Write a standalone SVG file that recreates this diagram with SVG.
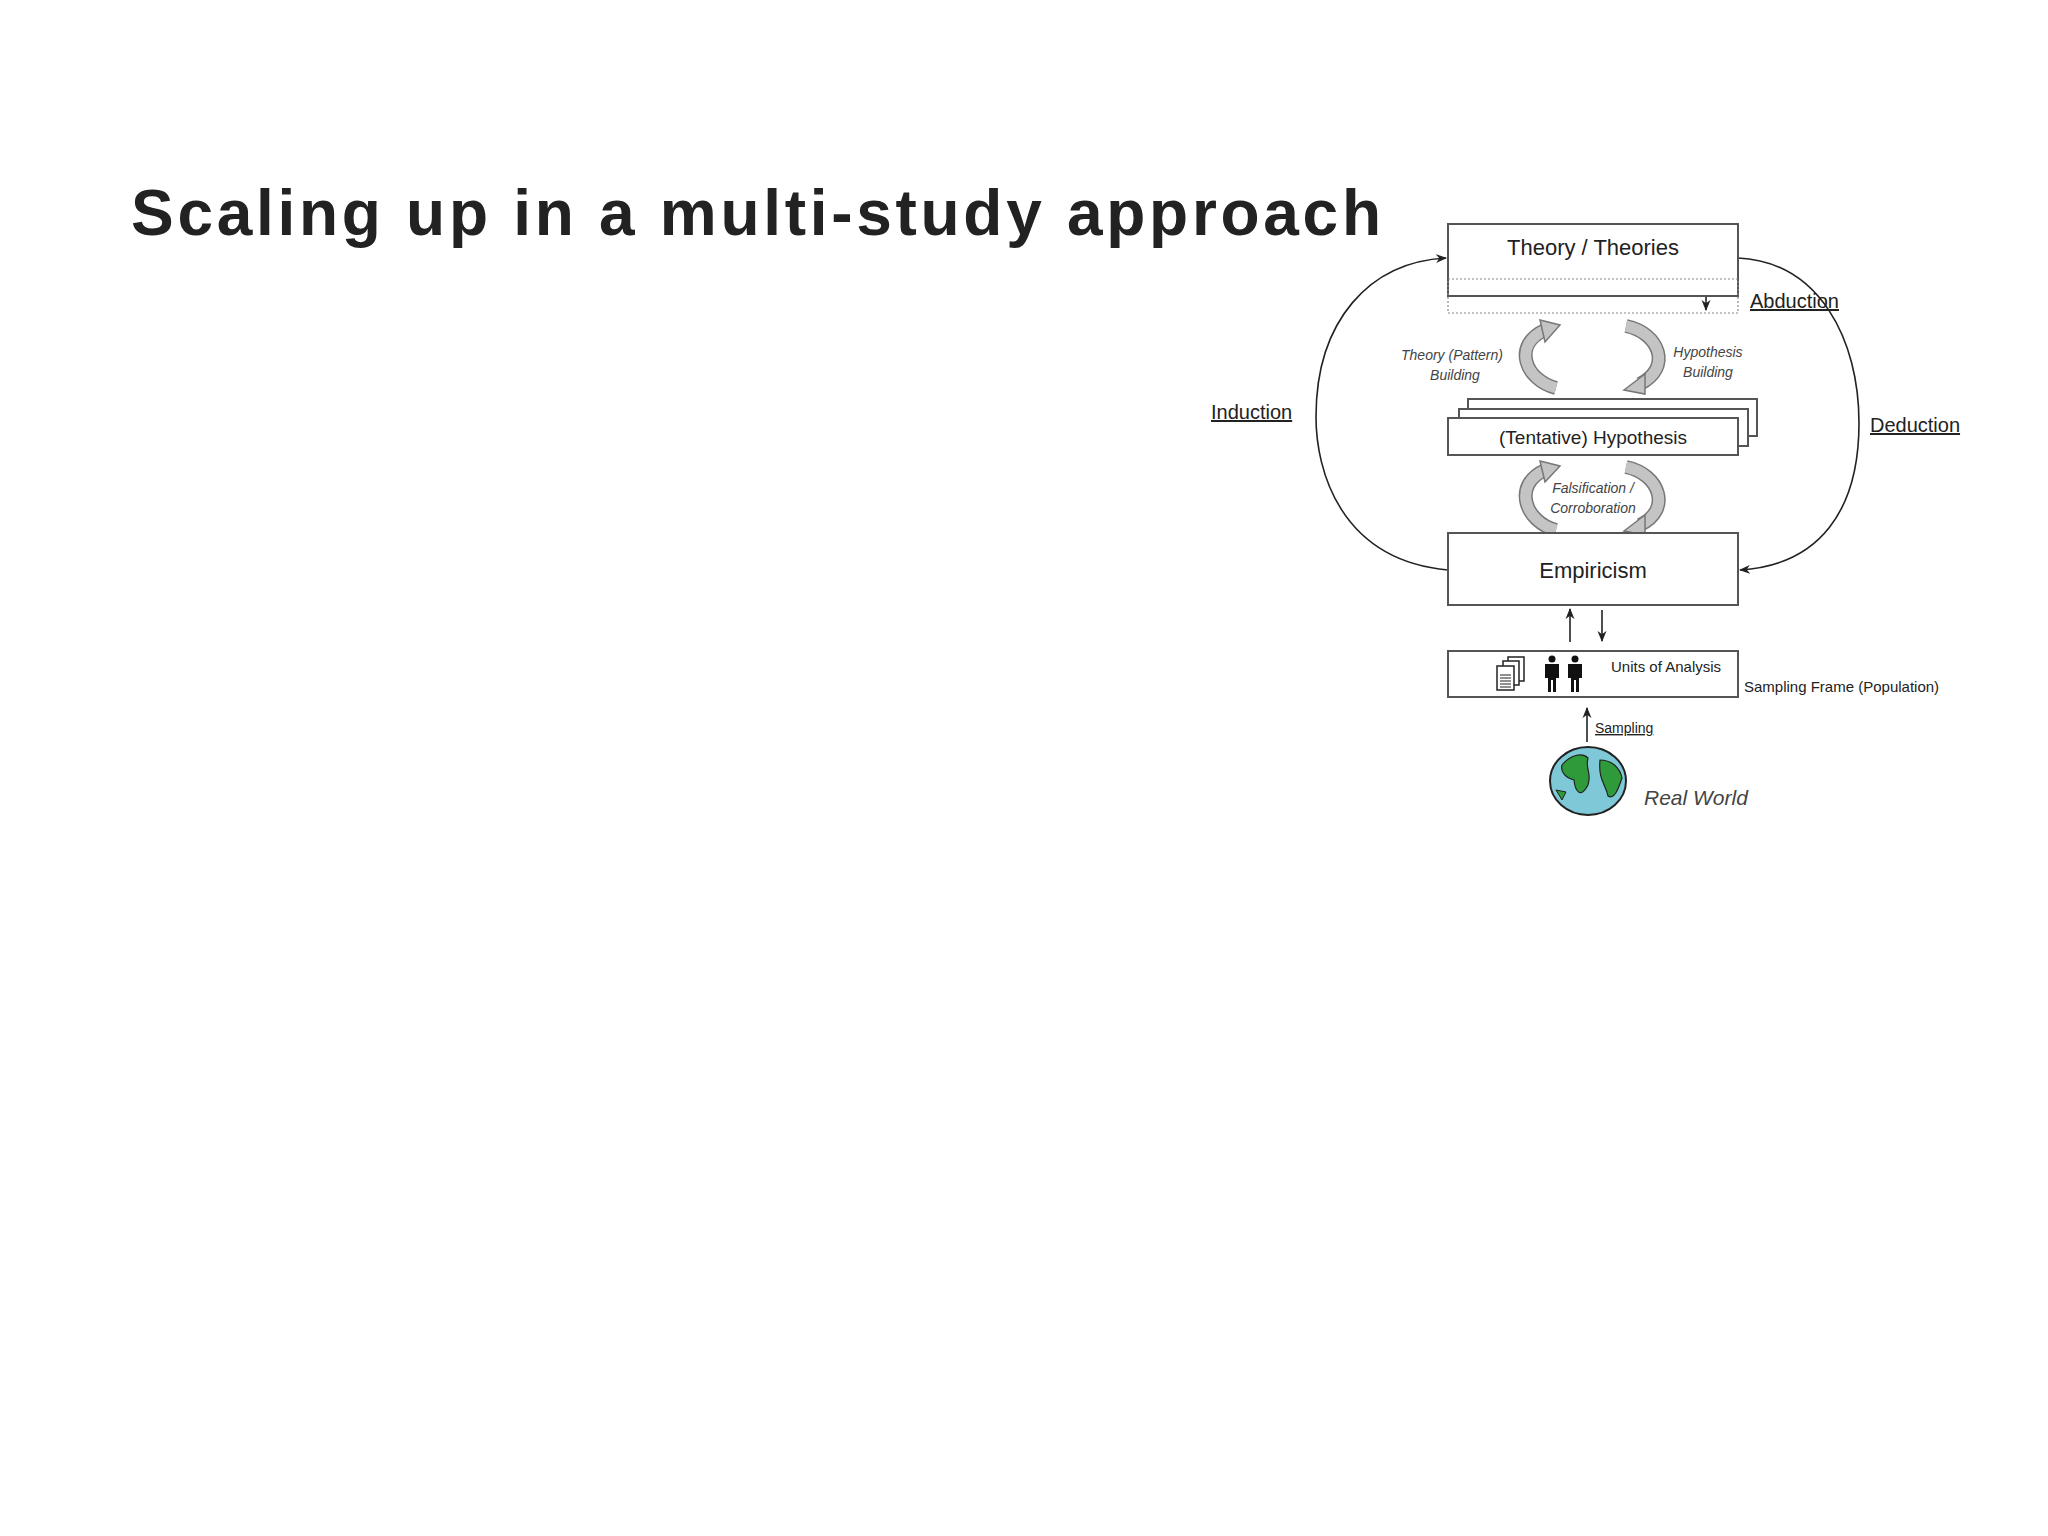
<svg xmlns="http://www.w3.org/2000/svg" width="2048" height="1536" viewBox="0 0 2048 1536">
<style>
.box{fill:#fff;stroke:#555;stroke-width:2}
.t{font-family:"Liberation Sans",Arial,sans-serif;fill:#222}
.i{font-family:"Liberation Sans",Arial,sans-serif;font-style:italic;fill:#444}
.ln{fill:none;stroke:#222;stroke-width:1.6}
.ca{fill:none;stroke:#777;stroke-width:14}
.ci{fill:none;stroke:#c4c4c4;stroke-width:11}
.hd{fill:#c4c4c4;stroke:#777;stroke-width:1.5}
</style>
<defs>
<marker id="ah" viewBox="0 0 10 10" refX="9" refY="5" markerWidth="7" markerHeight="7" orient="auto"><path d="M0,1 L10,5 L0,9 L3,5 Z" fill="#222"/></marker>
</defs>
<rect width="2048" height="1536" fill="#fff"/>
<text x="131" y="235" class="t" font-size="64" font-weight="bold" fill="#000" textLength="1250">Scaling up in a multi-study approach</text>

<g id="connectors">
<path class="ln" d="M1448,570 C1340,560 1316,470 1316,417 C1316,320 1370,262 1446,258" marker-end="url(#ah)"/>
<path class="ln" d="M1738,258 C1820,262 1859,340 1859,423 C1859,510 1820,565 1740,570" marker-end="url(#ah)"/>
<line class="ln" x1="1706" y1="283" x2="1706" y2="310" stroke-width="1.2" marker-start="url(#ah)" marker-end="url(#ah)"/>
<line class="ln" x1="1570" y1="642" x2="1570" y2="609" marker-end="url(#ah)"/>
<line class="ln" x1="1602" y1="610" x2="1602" y2="641" marker-end="url(#ah)"/>
<line class="ln" x1="1587" y1="742" x2="1587" y2="708" marker-end="url(#ah)"/>
<g id="cycle-arrows">
<path class="ca" d="M1556,388 C1525,380 1512,345 1545,330"/><path class="ci" d="M1556,388 C1525,380 1512,345 1545,330"/>
<polygon class="hd" points="1540,320 1560,325 1545,342"/>
<path class="ca" d="M1626,326 C1660,333 1672,368 1640,384"/><path class="ci" d="M1626,326 C1660,333 1672,368 1640,384"/>
<polygon class="hd" points="1645,374 1624,390 1645,394"/>
<path class="ca" d="M1556,530 C1525,522 1512,485 1545,470"/><path class="ci" d="M1556,530 C1525,522 1512,485 1545,470"/>
<polygon class="hd" points="1540,461 1560,466 1545,482"/>
<path class="ca" d="M1626,467 C1660,474 1672,510 1640,525"/><path class="ci" d="M1626,467 C1660,474 1672,510 1640,525"/>
<polygon class="hd" points="1645,515 1624,531 1645,535"/>
</g>
</g>

<g id="theory">
<rect class="box" x="1448" y="224" width="290" height="72"/>
<rect x="1448" y="279" width="290" height="34" fill="none" stroke="#888" stroke-width="1.2" stroke-dasharray="2,2"/>
<text x="1593" y="255" class="t" font-size="22" text-anchor="middle">Theory / Theories</text>
</g>
<g id="abduction"><text x="1750" y="308" class="t" font-size="20" text-decoration="underline">Abduction</text></g>
<g id="induction"><text x="1211" y="419" class="t" font-size="20" text-decoration="underline">Induction</text></g>
<g id="deduction"><text x="1870" y="432" class="t" font-size="20" text-decoration="underline">Deduction</text></g>

<g id="labels-cycle">
<text x="1452" y="360" class="i" font-size="14" text-anchor="middle">Theory (Pattern)</text>
<text x="1455" y="380" class="i" font-size="14" text-anchor="middle">Building</text>
<text x="1708" y="357" class="i" font-size="14" text-anchor="middle">Hypothesis</text>
<text x="1708" y="377" class="i" font-size="14" text-anchor="middle">Building</text>
<text x="1593" y="493" class="i" font-size="14" text-anchor="middle">Falsification /</text>
<text x="1593" y="513" class="i" font-size="14" text-anchor="middle">Corroboration</text>
</g>

<g id="hypothesis">
<rect class="box" x="1468" y="399" width="289" height="37"/>
<rect class="box" x="1459" y="409" width="289" height="37"/>
<rect class="box" x="1448" y="418" width="290" height="37"/>
<text x="1593" y="444" class="t" font-size="19" text-anchor="middle">(Tentative) Hypothesis</text>
</g>

<g id="empiricism">
<rect class="box" x="1448" y="533" width="290" height="72"/>
<text x="1593" y="578" class="t" font-size="22" text-anchor="middle">Empiricism</text>
</g>

<g id="units">
<rect class="box" x="1448" y="651" width="290" height="46"/>
<rect x="1508" y="657" width="16" height="24" fill="#fff" stroke="#222" stroke-width="1.5"/>
<rect x="1503" y="661" width="16" height="24" fill="#fff" stroke="#222" stroke-width="1.5"/>
<rect x="1497" y="666" width="17" height="24" fill="#fff" stroke="#222" stroke-width="1.5"/>
<path d="M1500,675h11M1500,678h11M1500,681h11M1500,684h11M1500,687h11" stroke="#222" stroke-width="1.2"/>
<g fill="#111">
<circle cx="1552" cy="659" r="3.5"/><path d="M1545,664h14v14h-3v14h-3v-12h-2v12h-3v-14h-3z"/>
<circle cx="1575" cy="659" r="3.5"/><path d="M1568,664h14v14h-3v14h-3v-12h-2v12h-3v-14h-3z"/>
</g>
<text x="1611" y="672" class="t" font-size="15">Units of Analysis</text>
<text x="1744" y="692" class="t" font-size="15">Sampling Frame (Population)</text>
</g>

<g id="sampling"><text x="1595" y="733" class="t" font-size="14" text-decoration="underline">Sampling</text></g>

<g id="realworld">
<ellipse cx="1588" cy="781" rx="38" ry="34" fill="#7fc8d8" stroke="#222" stroke-width="2"/>
<path d="M1562,765 C1570,755 1582,752 1588,758 C1585,770 1592,772 1588,785 C1580,800 1575,790 1574,780 C1566,778 1560,772 1562,765 Z" fill="#2e9a3a" stroke="#222" stroke-width="1.2"/>
<path d="M1600,760 C1612,760 1620,768 1622,778 C1618,790 1614,800 1608,796 C1606,785 1598,780 1600,760 Z" fill="#2e9a3a" stroke="#222" stroke-width="1.2"/>
<path d="M1556,790 L1566,792 L1562,800 Z" fill="#2e9a3a" stroke="#222" stroke-width="1"/>
<text x="1644" y="805" class="i" font-size="21" fill="#222">Real World</text>
</g>
</svg>
